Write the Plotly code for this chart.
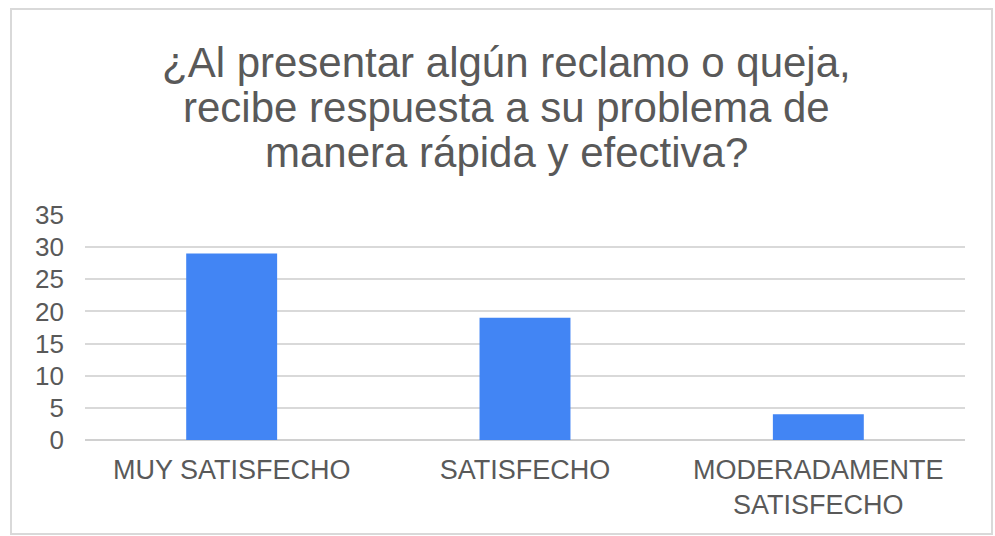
import plotly.graph_objects as go

# Survey answers and counts
categories = ["MUY SATISFECHO", "SATISFECHO", "MODERADAMENTE<br>SATISFECHO"]
counts = [29, 19, 4]
y_ticks = [0, 5, 10, 15, 20, 25, 30, 35]
title_lines = [
    "¿Al presentar algún reclamo o queja,",
    "recibe respuesta a su problema de",
    "manera rápida y efectiva?",
]

W, H = 995, 536
M_L, M_R, M_T, M_B = 85, 30, 215, 96
plot_w = W - M_L - M_R
plot_h = H - M_T - M_B


def px_x(px):
    return (px - M_L) / plot_w


def px_y(py):
    return (H - M_B - py) / plot_h


TEXT = "#595959"
FONT = "Liberation Sans, Arial, sans-serif"

fig = go.Figure(
    go.Bar(
        x=categories,
        y=counts,
        width=0.31,
        marker=dict(color="#4285F4", line=dict(width=0)),
        hoverinfo="x+y",
    )
)

# Title lines, spaced individually
for i, line in enumerate(title_lines):
    fig.add_annotation(
        text=line,
        xref="paper", yref="paper",
        x=px_x(506), y=px_y(62 + 45 * i),
        xanchor="center", yanchor="middle",
        showarrow=False,
        font=dict(family=FONT, size=42, color=TEXT),
    )

# Chart frame
fig.add_shape(
    type="rect", xref="paper", yref="paper",
    x0=px_x(11), x1=px_x(992), y0=px_y(534), y1=px_y(9),
    line=dict(color="#d9d9d9", width=2),
    layer="below",
)

fig.update_layout(
    width=W, height=H,
    margin=dict(l=M_L, r=M_R, t=M_T, b=M_B, pad=0),
    paper_bgcolor="white",
    plot_bgcolor="white",
    showlegend=False,
    bargap=0.69,
    font=dict(family=FONT, color=TEXT),
)

fig.update_xaxes(
    showgrid=False,
    showline=False,
    zeroline=False,
    ticks="",
    tickfont=dict(size=27, color=TEXT, family=FONT),
    ticklabelstandoff=11,
)

fig.update_yaxes(
    range=[0, 35],
    tickvals=y_ticks,
    showgrid=True,
    gridcolor="#d9d9d9",
    gridwidth=1.5,
    zeroline=True,
    zerolinecolor="#d0d0d0",
    zerolinewidth=2,
    showline=False,
    ticks="",
    tickfont=dict(size=26, color=TEXT, family=FONT),
    ticklabelstandoff=20,
)

fig.write_html("out.html")
